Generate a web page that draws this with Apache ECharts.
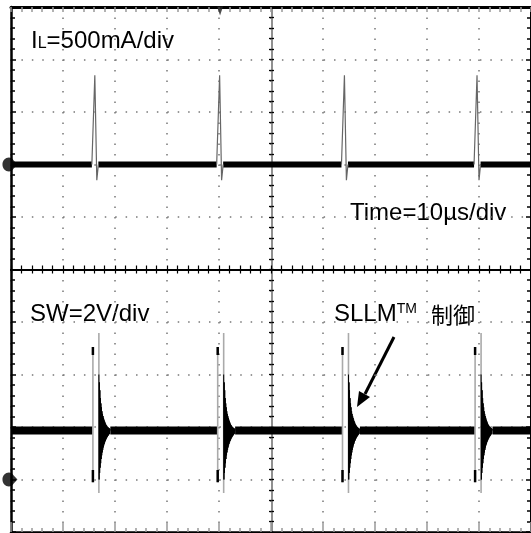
<!DOCTYPE html>
<html><head><meta charset="utf-8">
<script src="https://cdn.jsdelivr.net/npm/echarts@6/dist/echarts.min.js"></script>
<style>html,body{margin:0;padding:0;background:#fff;overflow:hidden}#c{width:531px;height:533px}</style>
</head><body><div id="c"></div>
<script>
// ---- scales (oscilloscope screen: 10 x 10 divisions) ----
const timeRange = [0, 100];          // µs, Time = 10 µs/div
const divRange = [-5, 5];            // screen divisions
const ilRange = [-3.5, 1.5];         // A, IL = 500 mA/div, ground marker at +2 div
const swRange = [-2, 18];            // V, SW = 2 V/div, ground marker at -4 div

// ---- switching pulses (SW falling edge, µs) ----
const pulseTimes = [16.9, 40.9, 64.9, 90.4];
const triggerTime = 40.2;

// ---- IL trace (A) ----
const ilBaseline = 0;
const ilSpikeDt  = [-1.35, -0.78, -0.40, -0.10];   // µs relative to pulse
const ilSpikeVal = [0, 0.85, -0.15, 0];

// ---- SW trace (V) ----
const swBaseline = 1.87;
const swRiseDt = -1.15;
const swRiseSpan = [-0.10, 5.05];
const swRiseTipTop = [4.74, 5.05];
const swRiseTipBottom = [-0.10, 0.36];
const swFallSpan = [-0.51, 5.58];
const swRingDt  = [0.00,0.05,0.10,0.15,0.20,0.25,0.30,0.35,0.40,0.45,0.50,0.55,0.60,0.65,0.70,0.75,0.80,0.85,0.90,0.95,1.00,1.05,1.10,1.15,1.20,1.25,1.30,1.35,1.40,1.45,1.50,1.55,1.60,1.65,1.70,1.75,1.80,1.85,1.90,1.95,2.00,2.05,2.10,2.20];
const swRingVal = [4.00,0.00,3.70,0.25,3.40,0.45,3.10,0.62,2.90,0.78,2.75,0.92,2.60,1.03,2.50,1.13,2.42,1.22,2.35,1.30,2.28,1.36,2.22,1.42,2.17,1.47,2.12,1.52,2.08,1.56,2.05,1.60,2.02,1.63,2.00,1.66,1.98,1.69,1.96,1.72,1.95,1.74,1.93,1.87];

// ---- build series data ----
function gapLine(value, cuts) {
  const d = [[timeRange[0], value]];
  cuts.forEach(([a, b]) => { d.push([a, value], [a, '-'], [b, value]); });
  d.push([timeRange[1], value]);
  return d;
}
const ilBaseData = gapLine(ilBaseline, pulseTimes.map(t => [t + ilSpikeDt[0], t + ilSpikeDt[ilSpikeDt.length - 1]]));
const ilSpikeData = [];
pulseTimes.forEach(t => { ilSpikeDt.forEach((dt, i) => ilSpikeData.push([t + dt, ilSpikeVal[i]])); ilSpikeData.push([t, '-']); });

const swBaseData = gapLine(swBaseline, pulseTimes.map(t => [t + swRiseDt - 0.05, t + swRingDt[swRingDt.length - 1]]));
const swEdgeData = [], swTipData = [], swRingData = [];
pulseTimes.forEach(t => {
  const ta = t + swRiseDt;
  swEdgeData.push([ta, swRiseSpan[0]], [ta, swRiseSpan[1]], [ta, '-'], [t, swFallSpan[0]], [t, swFallSpan[1]], [t, '-']);
  swTipData.push([ta, swRiseTipTop[0]], [ta, swRiseTipTop[1]], [ta, '-'], [ta, swRiseTipBottom[0]], [ta, swRiseTipBottom[1]], [ta, '-']);
  swRingDt.forEach((dt, i) => swRingData.push([t + dt, swRingVal[i]]));
  swRingData.push([t, '-']);
});

const G = {left: 11, top: 7, width: 521, height: 525};
const chart = echarts.init(document.getElementById('c'));
const FONT = "'Liberation Sans', Arial, sans-serif";
const hidden = (grid, pos) => ({gridIndex: grid, type: 'value', show: false, min: 0, max: 1, position: pos});
function divAxis(grid, pos, o) {
  return Object.assign({
    gridIndex: grid, type: 'value', min: divRange[0], max: divRange[1], interval: 1, position: pos,
    axisLabel: {show: false}, splitLine: {show: false}
  }, o);
}
const lineBase = {type: 'line', xAxisIndex: 0, showSymbol: false, symbol: 'none', animation: false, silent: true, connectNulls: false};
const GROUND = 'path://M6,0 C2.7,0 0,2.7 0,6 C0,9.3 2.7,12 6,12 C8,12 9.5,11 10.5,9.5 L14,6 L10.5,2.5 C9.5,1 8,0 6,0 Z';

const option = {
  animation: false,
  backgroundColor: '#fff',
  grid: [
    G,
    {left: G.left, top: G.top, width: G.width, height: G.height / 2},
    {left: G.left, top: G.top + G.height / 2, width: G.width, height: G.height / 2},
    {left: G.left, top: G.top, width: G.width / 2, height: G.height},
    {left: G.left + G.width / 2, top: G.top, width: G.width / 2, height: G.height}
  ],
  xAxis: [
    {gridIndex: 0, type: 'value', show: false, min: timeRange[0], max: timeRange[1], position: 'bottom'},
    divAxis(0, 'bottom', {
      axisLine: {show: true, onZero: false, lineStyle: {color: '#000', width: 2.5}},
      axisTick: {show: true, inside: true, length: 10, lineStyle: {color: '#999', width: 1.5}},
      minorTick: {show: true, splitNumber: 5, length: 4, lineStyle: {color: '#999', width: 1.5}},
      splitLine: {show: true, lineStyle: {color: '#777', width: 1.5, type: [1.5, 9.0]}}
    }),
    divAxis(0, 'top', {
      axisLine: {show: true, onZero: false, lineStyle: {color: '#000', width: 3}},
      axisTick: {show: true, inside: true, length: 5, lineStyle: {color: '#999', width: 1.5}},
      minorTick: {show: true, splitNumber: 5, length: 5, lineStyle: {color: '#999', width: 1.5}}
    }),
    divAxis(1, 'bottom', {
      axisLine: {show: true, onZero: false, lineStyle: {color: '#000', width: 2}},
      axisTick: {show: true, inside: true, length: 4, lineStyle: {color: '#000', width: 1.2}},
      minorTick: {show: true, splitNumber: 5, length: 4, lineStyle: {color: '#000', width: 1.2}}
    }),
    divAxis(2, 'top', {
      axisLine: {show: true, onZero: false, lineStyle: {color: '#000', width: 2}},
      axisTick: {show: true, inside: true, length: 4, lineStyle: {color: '#000', width: 1.2}},
      minorTick: {show: true, splitNumber: 5, length: 4, lineStyle: {color: '#000', width: 1.2}}
    }),
    hidden(3, 'bottom'),
    hidden(4, 'bottom')
  ],
  yAxis: [
    {gridIndex: 0, type: 'value', show: false, min: ilRange[0], max: ilRange[1], position: 'left'},
    {gridIndex: 0, type: 'value', show: false, min: swRange[0], max: swRange[1], position: 'right'},
    divAxis(0, 'left', {
      axisLine: {show: true, onZero: false, lineStyle: {color: '#000', width: 2.5}},
      axisTick: {show: true, inside: true, length: 5, lineStyle: {color: '#000', width: 1.5}},
      minorTick: {show: true, splitNumber: 5, length: 4, lineStyle: {color: '#000', width: 1.5}},
      splitLine: {show: true, lineStyle: {color: '#777', width: 1.5, type: [1.5, 8.92]}}
    }),
    divAxis(0, 'right', {
      axisLine: {show: true, onZero: false, lineStyle: {color: '#000', width: 2}},
      axisTick: {show: true, inside: true, length: 5, lineStyle: {color: '#000', width: 1.5}},
      minorTick: {show: true, splitNumber: 5, length: 4, lineStyle: {color: '#000', width: 1.5}}
    }),
    hidden(1, 'left'),
    hidden(2, 'left'),
    divAxis(3, 'right', {
      axisLine: {show: true, onZero: false, lineStyle: {color: '#888', width: 1.5}},
      axisTick: {show: true, inside: true, length: 2.5, lineStyle: {color: '#000', width: 1.3}},
      minorTick: {show: true, splitNumber: 5, length: 2.5, lineStyle: {color: '#000', width: 1.3}}
    }),
    divAxis(4, 'left', {
      axisLine: {show: true, onZero: false, lineStyle: {color: '#888', width: 1.5}},
      axisTick: {show: true, inside: true, length: 2.5, lineStyle: {color: '#000', width: 1.3}},
      minorTick: {show: true, splitNumber: 5, length: 2.5, lineStyle: {color: '#000', width: 1.3}}
    })
  ],
  series: [
    Object.assign({}, lineBase, {name: 'IL', yAxisIndex: 0, data: ilBaseData, lineStyle: {color: '#000', width: 6}}),
    Object.assign({}, lineBase, {name: 'IL spike', yAxisIndex: 0, data: ilSpikeData, lineStyle: {color: '#666', width: 1.2}}),
    Object.assign({}, lineBase, {name: 'SW', yAxisIndex: 1, data: swBaseData, lineStyle: {color: '#000', width: 8}}),
    Object.assign({}, lineBase, {name: 'SW edge', yAxisIndex: 1, data: swEdgeData, lineStyle: {color: '#aaa', width: 1.6}}),
    Object.assign({}, lineBase, {name: 'SW tip', yAxisIndex: 1, data: swTipData, lineStyle: {color: '#000', width: 2.5}}),
    Object.assign({}, lineBase, {name: 'SW ring', yAxisIndex: 1, data: swRingData, lineStyle: {color: '#000', width: 1}}),
    {type: 'scatter', name: 'IL ground', xAxisIndex: 0, yAxisIndex: 0, data: [[-0.2, 0]], clip: false, silent: true,
     symbol: GROUND, symbolSize: [15, 14], itemStyle: {color: '#000'}, z: 5},
    {type: 'scatter', name: 'SW ground', xAxisIndex: 0, yAxisIndex: 1, data: [[-0.2, 0]], clip: false, silent: true,
     symbol: GROUND, symbolSize: [15, 14], itemStyle: {color: '#000'}, z: 5},
    {type: 'scatter', name: 'trigger', xAxisIndex: 0, yAxisIndex: 2, data: [[triggerTime, divRange[1]]], clip: false, silent: true,
     symbol: 'triangle', symbolRotate: 180, symbolSize: [6, 9], symbolOffset: [0, 4], itemStyle: {color: '#222'}, z: 5}
  ],
  graphic: [
    {type: 'text', x: 31, y: 29, style: {text: '{a|I}{b|L}{a|=500mA/div}', fill: '#000', align: 'left', verticalAlign: 'top',
      rich: {a: {fontFamily: FONT, fontSize: 24, lineHeight: 24, verticalAlign: 'bottom'},
             b: {fontFamily: FONT, fontSize: 16, lineHeight: 24, verticalAlign: 'bottom', padding: [0, 0, 1, 0]}}}},
    {type: 'text', x: 350, y: 201, style: {text: 'Time=10µs/div', fill: '#000', align: 'left', verticalAlign: 'top', font: '24px ' + FONT}},
    {type: 'text', x: 30, y: 302, style: {text: 'SW=2V/div', fill: '#000', align: 'left', verticalAlign: 'top', font: '24px ' + FONT}},
    {type: 'text', x: 334, y: 302, style: {text: '{a|SLLM}{t|TM}{c|制御}', fill: '#000', align: 'left', verticalAlign: 'top',
      rich: {a: {fontFamily: FONT, fontSize: 24, lineHeight: 24, verticalAlign: 'bottom'},
             t: {fontFamily: FONT, fontSize: 14, lineHeight: 24, verticalAlign: 'top'},
             c: {fontFamily: "'Noto Sans CJK JP', " + FONT, fontSize: 22, lineHeight: 24, verticalAlign: 'bottom', padding: [0, 0, 0, 14]}}}},
    {type: 'line', shape: {x1: 394, y1: 337, x2: 365, y2: 394}, style: {stroke: '#000', lineWidth: 3}},
    {type: 'polygon', shape: {points: [[357, 407], [370, 397], [359, 391]]}, style: {fill: '#000'}}
  ]
};
chart.setOption(option);
</script></body></html>
